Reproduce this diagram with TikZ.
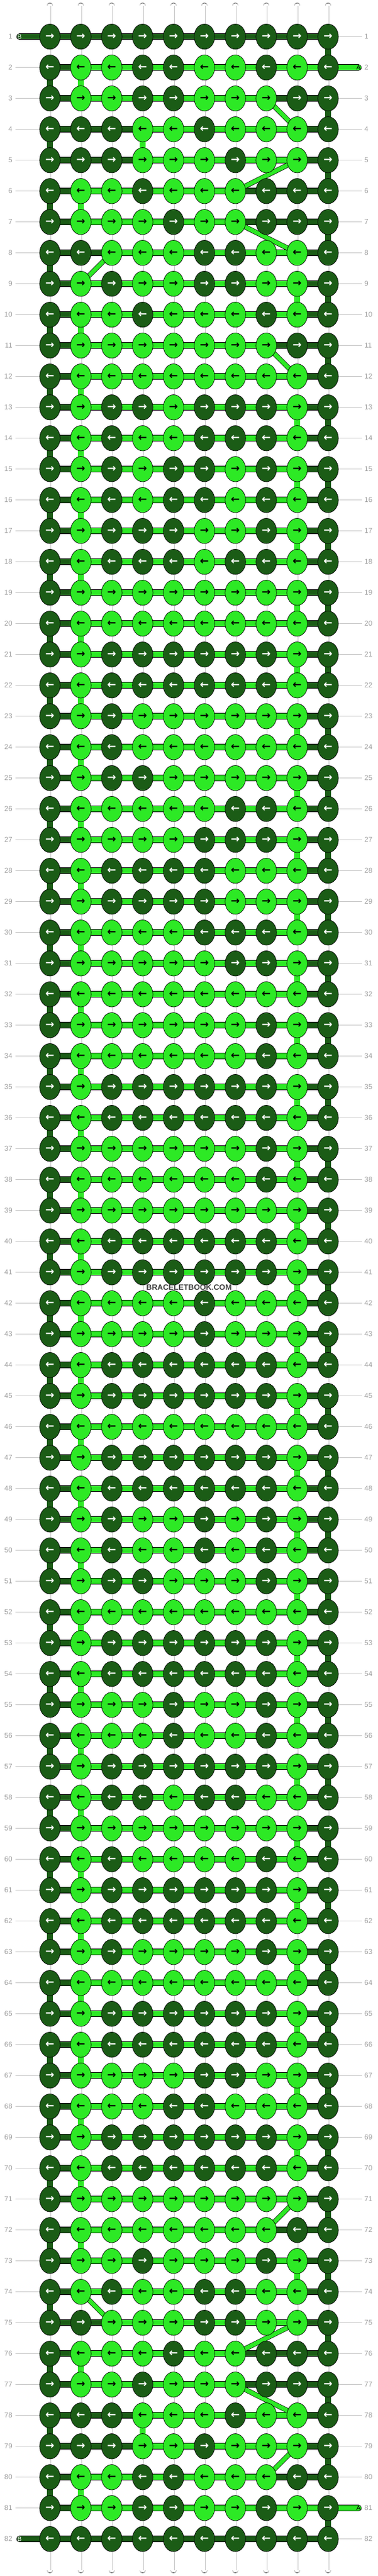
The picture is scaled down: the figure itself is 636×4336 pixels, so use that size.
\documentclass[tikz,border=0pt]{standalone}
\usepackage{fontspec}
\setmainfont{Liberation Sans}
\newfontfamily\arrowfont{DejaVu Sans}
\usetikzlibrary{shapes.geometric}
\definecolor{dkgreen}{HTML}{1B5C16}
\definecolor{ltgreen}{HTML}{2DE925}
\definecolor{rowgray}{HTML}{A0A0A0}
\definecolor{linegray}{HTML}{C4C4C4}
\pgfdeclarelayer{bg}
\pgfsetlayers{bg,main}
\tikzset{
  knot/.style={ellipse, draw=black, line width=0.7pt, minimum width=34.5pt, minimum height=42.5pt, inner sep=0pt, font=\arrowfont\bfseries\fontsize{18}{18}\selectfont},
  knotd/.style={fill=dkgreen, text=white},
  knotl/.style={fill=ltgreen, text=black},
  thread/.style={draw=black, line width=0.7pt, double distance=9.4pt},
  segd/.style={thread, double=dkgreen},
  segl/.style={thread, double=ltgreen},
  segw/.style={thread, double=white},
  core/.style={draw=linegray, line width=0.8pt},
  diag/.style={thread, double=ltgreen, double distance=7pt},
  rowline/.style={draw=linegray, line width=0.8pt},
  rownum/.style={text=rowgray, font=\fontsize{12}{12}\selectfont, inner sep=0pt},
  tailtext/.style={font=\fontsize{10.5}{10.5}\selectfont, inner sep=0pt},
}
\begin{document}
\begin{tikzpicture}[x=1pt,y=-1pt]
\useasboundingbox (0,0) rectangle (636,4336);
\begin{pgfonlayer}{bg}
\fill[white] (0,0) rectangle (636,4336);
\end{pgfonlayer}

% knots, row by row
\foreach \r/\lst in {
 1/{d,d,d,d,d,d,d,d,d,d}, 2/{d,l,l,d,d,l,l,d,l,d}, 3/{d,l,l,d,d,l,l,l,d,d}, 4/{d,d,d,l,l,d,l,l,l,d},
 5/{d,d,d,l,l,l,d,l,l,d}, 6/{d,l,l,d,l,l,l,d,d,d}, 7/{d,l,l,l,d,l,l,d,d,d}, 8/{d,d,l,l,l,d,d,l,l,d},
 9/{d,l,d,l,l,d,d,l,l,d}, 10/{d,l,l,d,l,l,l,d,l,d}, 11/{d,l,l,l,l,l,l,l,d,d}, 12/{d,l,l,l,l,l,l,l,l,d},
 13/{d,l,d,d,l,d,d,d,l,d}, 14/{d,l,d,l,l,d,d,d,l,d}, 15/{d,l,d,l,d,d,l,d,l,d}, 16/{d,l,d,l,d,d,l,d,l,d},
 17/{d,l,d,d,d,l,l,d,l,d}, 18/{d,l,d,d,d,l,d,d,l,d}, 19/{d,l,l,l,l,l,l,l,l,d}, 20/{d,l,l,l,l,l,l,l,l,d},
 21/{d,l,d,d,d,d,d,d,l,d}, 22/{d,l,d,d,d,d,d,d,l,d}, 23/{d,l,d,l,l,l,l,l,l,d}, 24/{d,l,d,l,l,l,l,l,l,d},
 25/{d,l,d,d,l,l,l,l,l,d}, 26/{d,l,l,l,l,l,d,d,l,d}, 27/{d,l,l,l,l,d,d,d,l,d}, 28/{d,l,d,d,d,d,l,l,l,d},
 29/{d,l,d,d,d,d,l,l,l,d}, 30/{d,l,l,l,l,d,d,d,l,d}, 31/{d,l,l,l,l,l,d,d,l,d}, 32/{d,l,l,l,l,l,l,l,l,d},
 33/{d,l,l,l,l,l,l,d,l,d}, 34/{d,l,l,l,l,l,l,d,l,d}, 35/{d,l,d,d,d,d,d,d,l,d}, 36/{d,l,d,d,d,d,d,d,l,d},
 37/{d,l,l,l,l,l,l,d,l,d}, 38/{d,l,l,l,l,l,l,d,l,d}, 39/{d,l,l,l,l,l,l,l,l,d}, 40/{d,l,d,d,d,d,d,d,l,d},
 41/{d,l,d,d,d,d,d,d,l,d}, 42/{d,l,l,l,l,d,l,l,l,d}, 43/{d,l,l,l,l,d,l,l,l,d}, 44/{d,l,d,d,d,d,d,d,l,d},
 45/{d,l,d,d,d,d,d,d,l,d}, 46/{d,l,l,l,l,l,l,l,l,d}, 47/{d,l,d,d,d,d,d,d,l,d}, 48/{d,l,d,d,d,d,d,d,l,d},
 49/{d,l,d,l,l,d,l,d,l,d}, 50/{d,l,d,l,l,d,l,d,l,d}, 51/{d,l,d,d,l,l,l,d,l,d}, 52/{d,l,l,l,l,l,l,l,l,d},
 53/{d,l,d,d,d,d,d,d,l,d}, 54/{d,l,d,d,d,d,d,d,l,d}, 55/{d,l,l,l,d,l,l,d,l,d}, 56/{d,l,l,l,d,l,l,d,l,d},
 57/{d,l,d,d,d,d,d,d,l,d}, 58/{d,l,d,d,l,d,d,l,l,d}, 59/{d,l,l,l,l,l,l,l,l,d}, 60/{d,l,d,l,l,l,l,d,l,d},
 61/{d,l,d,d,d,d,d,d,l,d}, 62/{d,l,d,d,d,d,d,d,l,d}, 63/{d,l,d,l,l,l,l,d,l,d}, 64/{d,l,l,l,l,l,l,l,l,d},
 65/{d,l,d,d,d,d,d,d,l,d}, 66/{d,l,d,d,d,d,d,d,l,d}, 67/{d,l,l,l,l,d,d,l,l,d}, 68/{d,l,l,l,d,d,l,l,l,d},
 69/{d,l,d,d,d,d,d,d,l,d}, 70/{d,l,d,d,d,d,d,d,l,d}, 71/{d,l,l,l,l,l,l,l,l,d}, 72/{d,l,l,l,l,l,l,l,d,d},
 73/{d,l,l,d,l,l,l,d,l,d}, 74/{d,l,d,l,l,d,d,l,l,d}, 75/{d,d,l,l,l,d,d,l,l,d}, 76/{d,l,l,l,d,l,l,d,d,d},
 77/{d,l,l,d,l,l,l,d,d,d}, 78/{d,d,d,l,l,l,d,l,l,d}, 79/{d,d,d,l,l,d,l,l,l,d}, 80/{d,l,l,d,d,l,l,l,d,d},
 81/{d,l,l,d,d,l,l,d,l,d}, 82/{d,d,d,d,d,d,d,d,d,d}}
  \foreach \k [count=\c] in \lst
    \node[knot,knot\k] (k\r-\c) at ({32+52*\c},{9.7+52*\r}) {\ifodd\r\relax →\else ←\fi};

% row numbers
\foreach \r in {1,...,82} {
  \node[rownum,anchor=east] (ln\r) at (21,{9.7+52*\r}) {\r};
  \node[rownum,anchor=west] (rn\r) at (613,{9.7+52*\r}) {\r};
}
\foreach \r in {2,...,81}
  \draw[rowline] ([xshift=5pt]ln\r.east) -- (k\r-1);
\foreach \r in {1,3,4,...,80,82}
  \draw[rowline] (k\r-10) -- ([xshift=-4pt]rn\r.west);

% string ends
\node[tailtext,text=white] (tB1) at (33,61.7) {B};
\node[tailtext,text=white] (tB82) at (33,4273.7) {B};
\node[tailtext,text=black] (tA2) at (603,113.7) {A};
\node[tailtext,text=black] (tA81) at (603,4221.7) {A};

\node[font=\bfseries\fontsize{13}{13}\selectfont, text=black!75] (mark) at (318,2167) {BRACELETBOOK.COM};

\begin{pgfonlayer}{bg}
% white strings
\foreach \c in {1,...,10} {
  \coordinate (top\c) at ({32+52*\c},10);
  \coordinate (bot\c) at ({32+52*\c},4325.7);
  \draw[segw,line cap=round] (top\c) -- (k1-\c.center);
  \draw[segw,line cap=round] (k82-\c.center) -- (bot\c);
  \draw[core] ([xshift=1pt]top\c) -- ([xshift=1pt]k1-\c.center);
  \draw[core] ([xshift=1pt]k82-\c.center) -- ([xshift=1pt]bot\c);
}
\foreach \r [evaluate=\r as \s using int(\r+1)] in {1,...,81}
  \foreach \c in {1,...,10} {
    \draw[segw] (k\r-\c.center) -- (k\s-\c.center);
    \draw[core] ([xshift=1pt]k\r-\c.center) -- ([xshift=1pt]k\s-\c.center);
  }

% coloured strings going down
\foreach \r [evaluate=\r as \s using int(\r+1)] in {2,4,...,80}
  \draw[segd] (k\r-1.center) -- (k\s-1.center);
\foreach \r [evaluate=\r as \s using int(\r+1)] in {1,3,...,81}
  \draw[segd] (k\r-10.center) -- (k\s-10.center);
\foreach \r [evaluate=\r as \s using int(\r+1)] in {2,6,10,12,...,72,76,80}
  \draw[segl] (k\r-2.center) -- (k\s-2.center);
\foreach \r [evaluate=\r as \s using int(\r+1)] in {4,78}
  \draw[segl] (k\r-4.center) -- (k\s-4.center);
\foreach \r [evaluate=\r as \s using int(\r+1)] in {9,13,15,...,69,73}
  \draw[segl] (k\r-9.center) -- (k\s-9.center);

% rows
\foreach \r in {2,...,81} {
  \draw[segd] (k\r-1.center) -- (k\r-2.center);
  \draw[segl] (k\r-2.center) -- (k\r-9.center);
  \draw[segd] (k\r-9.center) -- (k\r-10.center);
}
\foreach \r/\a/\b in {3/8/9, 4/2/4, 5/2/4, 6/7/9, 7/7/9, 8/2/3, 11/8/9,
  72/8/9, 75/2/3, 76/7/9, 77/7/9, 78/2/4, 79/2/4, 80/8/9}
  \draw[segd] (k\r-\a.center) -- (k\r-\b.center);
\draw[segd] (k1-1.center) -- (k1-10.center);
\draw[segd] (k82-1.center) -- (k82-10.center);
\draw[segl] (k2-9.center) -- (k2-10.center);
\draw[segl] (k81-9.center) -- (k81-10.center);
\draw[segd,line cap=round] (tB1.center) -- (k1-1.center);
\draw[segd,line cap=round] (tB82.center) -- (k82-1.center);
\draw[segl,line cap=round] (k2-10.center) -- (tA2.center);
\draw[segl,line cap=round] (k81-10.center) -- (tA81.center);

% strings crossing over
\foreach \r/\a/\s/\b in {3/8/4/9, 5/9/6/7, 7/7/8/9, 8/3/9/2, 11/8/12/9,
  71/9/72/8, 74/2/75/3, 75/9/76/7, 77/7/78/9, 79/9/80/8}
  \draw[diag] (k\r-\a.center) -- (k\s-\b.center);
\end{pgfonlayer}
\end{tikzpicture}
\end{document}
